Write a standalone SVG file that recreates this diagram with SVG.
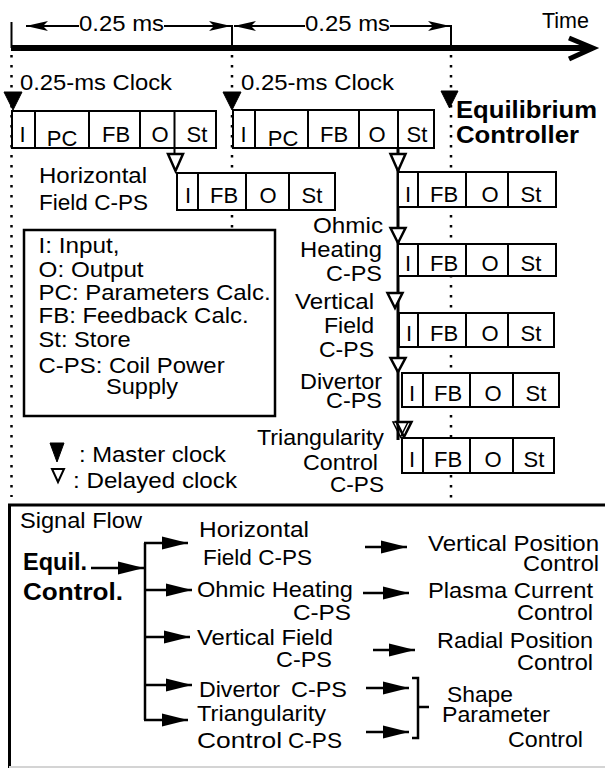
<svg xmlns="http://www.w3.org/2000/svg" width="605" height="768" viewBox="0 0 605 768">
<style>
text{font-family:"Liberation Sans",Arial,Helvetica,sans-serif;font-size:22px;fill:#000}
.b{font-weight:bold;font-size:24px}
.c{text-anchor:middle}
.box{fill:#fff;stroke:#000;stroke-width:2}
.div{stroke:#000;stroke-width:2;fill:none}
.dot{stroke:#000;stroke-width:2.5;stroke-dasharray:2.5 7.5;fill:none}
.ln{stroke:#000;stroke-width:2;fill:none}
.tk{stroke:#000;stroke-width:2.5;fill:none}
.mc{fill:#000;stroke:#000;stroke-width:1}
.dc{fill:#fff;stroke:#000;stroke-width:2.5;stroke-linejoin:miter}
</style>
<defs>
<marker id="dim" markerUnits="userSpaceOnUse" markerWidth="22" markerHeight="10" refX="22" refY="5" orient="auto"><path d="M0,0 L22,5 L0,10 L5,5 z" fill="#000"/></marker>
<marker id="sa" markerUnits="userSpaceOnUse" markerWidth="26" markerHeight="14" refX="26" refY="7" orient="auto"><path d="M0,0.5 L26,7 L0,13.5 z" fill="#000"/></marker>
</defs>
<rect width="605" height="768" fill="#fff"/>

<g id="time-axis">
<path class="ln" d="M11.5,22 V48 M232,25 V48 M451,25 V48"/>
<path d="M11,48 H590" stroke="#000" stroke-width="6" fill="none"/>
<polyline points="569,38 593,48 569,59" stroke="#000" stroke-width="5" fill="none"/>
<path class="ln" marker-end="url(#dim)" d="M79,26 H26"/>
<path class="ln" marker-end="url(#dim)" d="M164,26 H231"/>
<path class="ln" marker-end="url(#dim)" d="M305,26 H234"/>
<path class="ln" marker-end="url(#dim)" d="M390,26 H450"/>
<text x="79" y="31" textLength="85" lengthAdjust="spacingAndGlyphs">0.25 ms</text>
<text x="305" y="31" textLength="85" lengthAdjust="spacingAndGlyphs">0.25 ms</text>
<text x="542" y="28" textLength="47" lengthAdjust="spacingAndGlyphs">Time</text>
</g>

<g id="guides">
<path class="dot" d="M11.5,55 V497"/>
<path class="dot" d="M232,55 V230"/>
<path class="dot" d="M451,55 V498"/>
</g>

<g id="clock-labels">
<text x="20" y="90" textLength="152" lengthAdjust="spacingAndGlyphs">0.25-ms Clock</text>
<text x="241" y="90" textLength="153" lengthAdjust="spacingAndGlyphs">0.25-ms Clock</text>
<text class="b" x="456" y="118" textLength="141" lengthAdjust="spacingAndGlyphs">Equilibrium</text>
<text class="b" x="456" y="143" textLength="123" lengthAdjust="spacingAndGlyphs">Controller</text>
</g>

<g id="eq-box-1">
<rect class="box" x="12" y="111" width="204" height="37"/>
<path class="div" d="M35,111 V148 M89,111 V148 M140,111 V148 M174.5,111 V148"/>
<text class="c" x="22.5" y="142">I</text>
<text class="c" x="62" y="146">PC</text>
<text class="c" x="116" y="142">FB</text>
<text class="c" x="160" y="142">O</text>
<text class="c" x="197" y="142">St</text>
</g>

<g id="eq-box-2">
<rect class="box" x="233" y="110" width="201" height="38"/>
<path class="div" d="M255,110 V148 M308,110 V148 M359,110 V148 M398,110 V148"/>
<text class="c" x="243.5" y="142">I</text>
<text class="c" x="283" y="146">PC</text>
<text class="c" x="334" y="142">FB</text>
<text class="c" x="377" y="142">O</text>
<text class="c" x="417" y="142">St</text>
</g>

<g id="master-clocks">
<polygon class="mc" points="4,92 22,92 13,110"/>
<polygon class="mc" points="223,92 241,92 232,110"/>
<polygon class="mc" points="441,91 458,91 449.5,108"/>
</g>

<g id="hf-cps">
<text x="39" y="183" textLength="108" lengthAdjust="spacingAndGlyphs">Horizontal</text>
<text x="39" y="210" textLength="109" lengthAdjust="spacingAndGlyphs">Field C-PS</text>
<path class="ln" d="M174.5,148 V154"/>
<polygon class="dc" points="168,154 183,154 175.5,171"/>
<rect class="box" x="177" y="173" width="158" height="37"/>
<path class="div" d="M198,173 V210 M246,173 V210 M289,173 V210"/>
<text class="c" x="188" y="203">I</text>
<text class="c" x="224" y="203">FB</text>
<text class="c" x="268" y="203">O</text>
<text class="c" x="312" y="203">St</text>
</g>

<g id="chain">
<path d="M398,148 V440" stroke="#000" stroke-width="3" fill="none"/>
<polygon class="dc" points="390.5,154 405.5,154 398,171"/>
<polygon class="dc" points="390.5,228 405.5,228 398,243"/>
<polygon class="dc" points="387.5,293 402.5,293 395,308"/>
<polygon class="dc" points="390.5,358 405.5,358 398,372"/>
<polygon class="dc" points="396.5,422 411.5,422 404,437"/>
<polygon class="dc" points="393,422 408,422 400.5,437" style="fill:none;stroke-width:1.5"/>
</g>

<g id="cps-a">
<rect class="box" x="398" y="172" width="158" height="35"/>
<path class="div" d="M418,172 V207 M466,172 V207 M508,172 V207"/>
<text class="c" x="408" y="202">I</text>
<text class="c" x="444" y="202">FB</text>
<text class="c" x="490" y="202">O</text>
<text class="c" x="531" y="202">St</text>
</g>

<g id="cps-ohmic">
<text x="313" y="233" textLength="70" lengthAdjust="spacingAndGlyphs">Ohmic</text>
<text x="300" y="257" textLength="82" lengthAdjust="spacingAndGlyphs">Heating</text>
<text x="326" y="281" textLength="56" lengthAdjust="spacingAndGlyphs">C-PS</text>
<rect class="box" x="398" y="244" width="158" height="32"/>
<path class="div" d="M418,244 V276 M466,244 V276 M508,244 V276"/>
<text class="c" x="408" y="271">I</text>
<text class="c" x="444" y="271">FB</text>
<text class="c" x="490" y="271">O</text>
<text class="c" x="531" y="271">St</text>
</g>

<g id="cps-vertical">
<text x="295" y="309" textLength="79" lengthAdjust="spacingAndGlyphs">Vertical</text>
<text x="324" y="333" textLength="50" lengthAdjust="spacingAndGlyphs">Field</text>
<text x="319" y="357" textLength="55" lengthAdjust="spacingAndGlyphs">C-PS</text>
<rect class="box" x="399" y="313" width="155" height="34"/>
<path class="div" d="M418,313 V347 M466,313 V347 M508,313 V347"/>
<text class="c" x="409" y="341">I</text>
<text class="c" x="444" y="341">FB</text>
<text class="c" x="490" y="341">O</text>
<text class="c" x="531" y="341">St</text>
</g>

<g id="cps-divertor">
<text x="300" y="389" textLength="82" lengthAdjust="spacingAndGlyphs">Divertor</text>
<text x="326" y="408" textLength="56" lengthAdjust="spacingAndGlyphs">C-PS</text>
<rect class="box" x="402" y="373" width="157" height="34"/>
<path class="div" d="M423,373 V407 M470,373 V407 M513,373 V407"/>
<text class="c" x="412" y="401">I</text>
<text class="c" x="448" y="401">FB</text>
<text class="c" x="493" y="401">O</text>
<text class="c" x="536" y="401">St</text>
</g>

<g id="cps-triangularity">
<text x="257" y="445" textLength="127" lengthAdjust="spacingAndGlyphs">Triangularity</text>
<text x="303" y="470" textLength="75" lengthAdjust="spacingAndGlyphs">Control</text>
<text x="330" y="492" textLength="54" lengthAdjust="spacingAndGlyphs">C-PS</text>
<rect class="box" x="402" y="438" width="152" height="35"/>
<path class="div" d="M423,438 V473 M470,438 V473 M513,438 V473"/>
<text class="c" x="412" y="467">I</text>
<text class="c" x="448" y="467">FB</text>
<text class="c" x="493" y="467">O</text>
<text class="c" x="534" y="467">St</text>
</g>

<g id="legend">
<rect x="24" y="230" width="251" height="186" fill="#fff" stroke="#000" stroke-width="2.5"/>
<text x="38.6" y="253" textLength="81" lengthAdjust="spacingAndGlyphs">I: Input,</text>
<text x="38.6" y="277" textLength="105" lengthAdjust="spacingAndGlyphs">O: Output</text>
<text x="38.6" y="300" textLength="232" lengthAdjust="spacingAndGlyphs">PC: Parameters Calc.</text>
<text x="38.6" y="323" textLength="210" lengthAdjust="spacingAndGlyphs">FB: Feedback Calc.</text>
<text x="38.6" y="347" textLength="92" lengthAdjust="spacingAndGlyphs">St: Store</text>
<text x="38.6" y="373" textLength="186" lengthAdjust="spacingAndGlyphs">C-PS: Coil Power</text>
<text x="106" y="394" textLength="72" lengthAdjust="spacingAndGlyphs">Supply</text>
</g>

<g id="clock-legend">
<polygon class="mc" points="50,443 64,443 57,462"/>
<text x="79" y="462" textLength="147" lengthAdjust="spacingAndGlyphs">: Master clock</text>
<polygon class="dc" points="52,469 64,469 58,482" style="stroke-width:2"/>
<text x="73" y="488" textLength="164" lengthAdjust="spacingAndGlyphs">: Delayed clock</text>
</g>

<g id="signal-flow-frame">
<path d="M9.5,770 V505 H612" stroke="#000" stroke-width="3" fill="none"/>
<path d="M9,767 H605" stroke="#d4d4d4" stroke-width="2" fill="none"/>
<text x="20" y="528" textLength="122" lengthAdjust="spacingAndGlyphs">Signal Flow</text>
</g>

<g id="sf-source">
<text class="b" x="23" y="570" textLength="64" lengthAdjust="spacingAndGlyphs" style="font-size:23px">Equil.</text>
<text class="b" x="23" y="600" textLength="100" lengthAdjust="spacingAndGlyphs" style="font-size:23px">Control.</text>
</g>

<g id="sf-cps">
<text x="199" y="537" textLength="110" lengthAdjust="spacingAndGlyphs">Horizontal</text>
<text x="203" y="565" textLength="109" lengthAdjust="spacingAndGlyphs">Field C-PS</text>
<text x="197" y="597" textLength="156" lengthAdjust="spacingAndGlyphs">Ohmic Heating</text>
<text x="293" y="620" textLength="58" lengthAdjust="spacingAndGlyphs">C-PS</text>
<text x="197" y="645" textLength="136" lengthAdjust="spacingAndGlyphs">Vertical Field</text>
<text x="276" y="667" textLength="56" lengthAdjust="spacingAndGlyphs">C-PS</text>
<text x="199" y="697" textLength="81" lengthAdjust="spacingAndGlyphs">Divertor</text>
<text x="291" y="697" textLength="56" lengthAdjust="spacingAndGlyphs">C-PS</text>
<text x="197" y="721" textLength="129" lengthAdjust="spacingAndGlyphs">Triangularity</text>
<text x="197" y="748" textLength="85" lengthAdjust="spacingAndGlyphs">Control</text>
<text x="288" y="748" textLength="54" lengthAdjust="spacingAndGlyphs">C-PS</text>
</g>

<g id="sf-controls">
<text x="428" y="551" textLength="171" lengthAdjust="spacingAndGlyphs">Vertical Position</text>
<text x="523" y="571" textLength="76" lengthAdjust="spacingAndGlyphs">Control</text>
<text x="428" y="598" textLength="165" lengthAdjust="spacingAndGlyphs">Plasma Current</text>
<text x="517" y="620" textLength="76" lengthAdjust="spacingAndGlyphs">Control</text>
<text x="437" y="648" textLength="156" lengthAdjust="spacingAndGlyphs">Radial Position</text>
<text x="517" y="670" textLength="76" lengthAdjust="spacingAndGlyphs">Control</text>
<text x="447" y="702" textLength="66" lengthAdjust="spacingAndGlyphs">Shape</text>
<text x="442" y="722" textLength="108" lengthAdjust="spacingAndGlyphs">Parameter</text>
<text x="508" y="747" textLength="75" lengthAdjust="spacingAndGlyphs">Control</text>
</g>

<g id="connectors">
<path class="tk" marker-end="url(#sa)" d="M91,568 H144"/>
<path class="tk" d="M145,543 V720"/>
<path class="tk" marker-end="url(#sa)" d="M144,543 H188"/>
<path class="tk" marker-end="url(#sa)" d="M145,590 H192"/>
<path class="tk" marker-end="url(#sa)" d="M145,637 H190"/>
<path class="tk" marker-end="url(#sa)" d="M145,685 H192"/>
<path class="tk" marker-end="url(#sa)" d="M144,720 H188"/>
<path class="tk" marker-end="url(#sa)" d="M365,547 H407"/>
<path class="tk" marker-end="url(#sa)" d="M363,593 H409"/>
<path class="tk" marker-end="url(#sa)" d="M373,650 H415"/>
<path class="tk" marker-end="url(#sa)" d="M366,688 H409"/>
<path class="tk" marker-end="url(#sa)" d="M366,732 H409"/>
<path class="tk" d="M412,678 H418 V738 H412 M418,707 H429"/>
</g>
</svg>
